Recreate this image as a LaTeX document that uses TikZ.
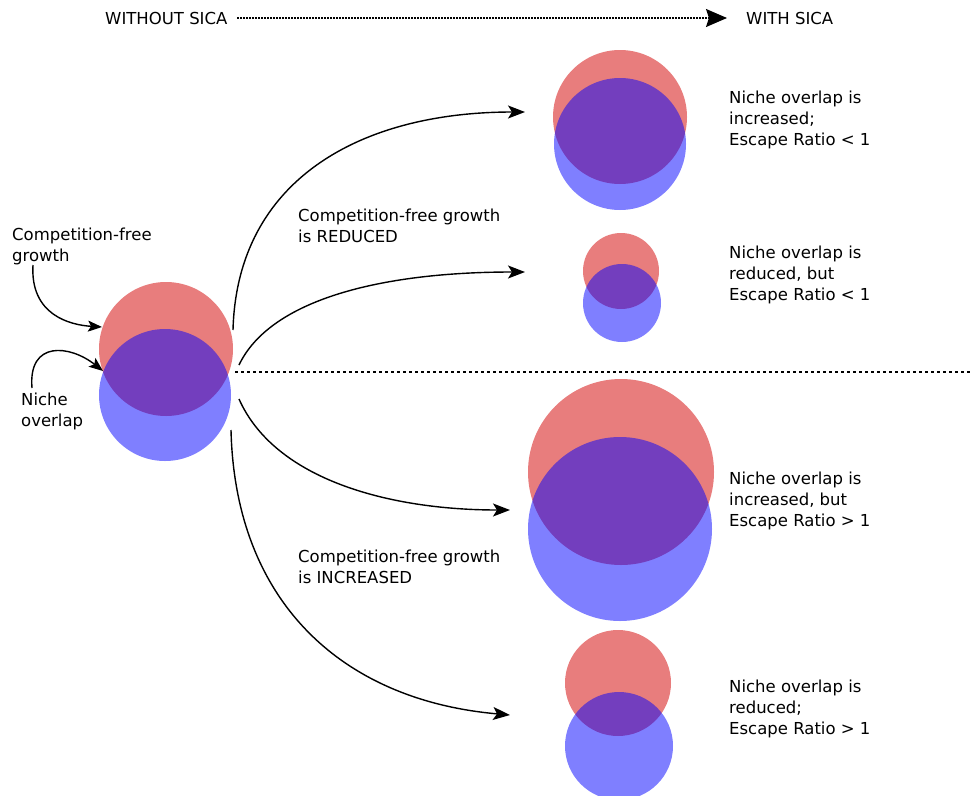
\documentclass[tikz,border=0pt]{standalone}
\usepackage{fontspec}
\setmainfont{DejaVu Sans}
\usetikzlibrary{arrows.meta}
\definecolor{nred}{RGB}{232,125,125}
\begin{document}
\begin{tikzpicture}[x=1pt,y=-1pt,
  redc/.style={circle,fill=nred,draw=none,inner sep=0pt},
  bluec/.style={circle,fill=blue,fill opacity=0.5,draw=none,inner sep=0pt},
  lbl/.style={anchor=west,align=left,inner sep=0pt,font=\fontsize{16.5}{21}\selectfont},
  arr/.style={line width=1.4pt,-{Stealth[length=17pt,width=13pt,inset=4pt]}},
  larr/.style={line width=1.4pt,-{Stealth[length=14pt,width=11pt,inset=3pt]}}]
\useasboundingbox (0,0) rectangle (971,795);
% circles
\node[redc,minimum size=134pt] (r0) at (166,349) {};
\node[bluec,minimum size=132pt] (b0) at (165,395) {};
\node[redc,minimum size=134pt] (r1) at (620,117) {};
\node[bluec,minimum size=132pt] (b1) at (620,144) {};
\node[redc,minimum size=76pt] (r2) at (621,271) {};
\node[bluec,minimum size=78pt] (b2) at (622,303) {};
\node[redc,minimum size=186pt] (r3) at (621,472) {};
\node[bluec,minimum size=184pt] (b3) at (620,529) {};
\node[redc,minimum size=106pt] (r4) at (618,683) {};
\node[bluec,minimum size=108pt] (b4) at (619,746) {};
% texts
\node[lbl] (tw) at (105,18) {WITHOUT SICA};
\node[lbl] (tws) at (746,18) {WITH SICA};
\node[lbl] (tcg) at (12,246) {Competition-free\\growth};
\node[lbl] (tno) at (21,411) {Niche\\overlap};
\node[lbl] (tred) at (298,226) {Competition-free growth\\is REDUCED};
\node[lbl] (tinc) at (298,567) {Competition-free growth\\is INCREASED};
\node[lbl] (t1) at (729,120) {Niche overlap is\\increased;\\Escape Ratio < 1};
\node[lbl] (t2) at (729,275) {Niche overlap is\\reduced, but\\Escape Ratio < 1};
\node[lbl] (t3) at (729,501) {Niche overlap is\\increased, but\\Escape Ratio > 1};
\node[lbl] (t4) at (729,709) {Niche overlap is\\reduced;\\Escape Ratio > 1};
% coordinates
\coordinate (s1) at (233,330);
\coordinate (e1) at (525,112);
\coordinate (s2) at (239,365);
\coordinate (e2) at (525,272);
\coordinate (s3) at (239,399);
\coordinate (e3) at (510,510);
\coordinate (s4) at (231,430);
\coordinate (e4) at (510,715);
\coordinate (ga) at (33,265);
\coordinate (gb) at (102,327);
\coordinate (na) at (32,388);
\coordinate (nb) at (103,371);
\coordinate (da) at (237,18);
\coordinate (db) at (727,18);
\coordinate (ma) at (235,372);
\coordinate (mb) at (971,372);
% connectors
\draw[arr] (s1) .. controls (237,180) and (360,112) .. (e1);
\draw[arr] (s2) .. controls (270,300) and (380,272) .. (e2);
\draw[arr] (s3) .. controls (275,480) and (390,510) .. (e3);
\draw[arr] (s4) .. controls (235,600) and (340,700) .. (e4);
\draw[larr] (ga) .. controls (30,315) and (70,325) .. (gb);
\draw[larr] (na) .. controls (28,340) and (70,345) .. (nb);
\draw[line width=1.5pt,dash pattern=on 1.5pt off 1.5pt,-{Stealth[length=21pt,width=18pt,inset=3pt]}] (da) -- (db);
\draw[line width=2.5pt,dash pattern=on 2.5pt off 3.5pt] (ma) -- (mb);
\end{tikzpicture}
\end{document}
